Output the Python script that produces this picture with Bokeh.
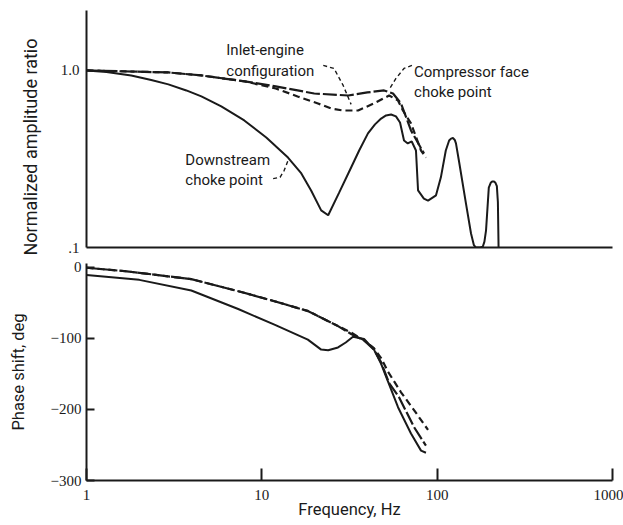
from bokeh.plotting import figure
from bokeh.layouts import column
from bokeh.models import FixedTicker, CustomJSTickFormatter, BasicTickFormatter, Label, Title
from bokeh.embed import file_html
from bokeh.resources import INLINE

# ---------------- data ----------------
# Amplitude, downstream choke point (solid)
amp_down_f = [1.0, 1.30, 1.80, 2.34, 2.93, 3.71, 4.52, 5.87, 7.94, 10.6, 14.1, 16.8, 19.1, 21.8, 23.9,
              27.6, 32.3, 35.9, 40.3, 44.2, 47.9, 51.1, 54.6, 58.2, 61.4, 64.7, 68.0, 71.6, 75.7,
              77.8, 84.0, 88.7, 98.5, 105, 112, 117, 120, 123, 126, 128, 133, 146, 156, 162, 166,
              171, 176, 182, 186, 190, 197, 202, 206, 211, 215, 219, 222, 224]
amp_down_v = [1.0, 0.981, 0.937, 0.884, 0.834, 0.771, 0.713, 0.626, 0.522, 0.418, 0.322, 0.262, 0.210, 0.162, 0.152,
              0.204, 0.283, 0.353, 0.441, 0.496, 0.535, 0.557, 0.564, 0.55, 0.508, 0.402, 0.387, 0.397, 0.353,
              0.210, 0.189, 0.184, 0.197, 0.249, 0.353, 0.402, 0.412, 0.415, 0.405, 0.387, 0.310, 0.177, 0.120, 0.103, 0.1,
              0.1, 0.1, 0.101, 0.108, 0.125, 0.218, 0.232, 0.236, 0.236, 0.232, 0.222, 0.18, 0.1]

# Amplitude, compressor face choke point (long dash)
amp_comp_f = [1.0, 2.93, 4.52, 8.0, 12.0, 19.9, 31.1, 40.0, 49.8, 56.0, 62.2, 70.9, 84.1]
amp_comp_v = [1.0, 0.974, 0.937, 0.867, 0.812, 0.741, 0.722, 0.751, 0.771, 0.741, 0.651, 0.458, 0.340]

# Amplitude, inlet-engine configuration (dashed)
amp_inlet_f = [1.0, 2.93, 4.52, 8.0, 12.0, 16.0, 20.9, 24.8, 29.0, 35.4, 43.6, 53.2, 59.8, 63.8, 70.9, 80.9, 86.3]
amp_inlet_v = [1.0, 0.974, 0.937, 0.867, 0.791, 0.713, 0.651, 0.610, 0.594, 0.594, 0.651, 0.722, 0.677, 0.594, 0.502, 0.353, 0.322]

# Phase, downstream choke point (solid)
ph_down_f = [1.0, 2.0, 3.96, 7.33, 11.8, 18.3, 21.8, 23.9, 27.2, 30.1, 33.1, 38.3, 43.6, 47.9, 53.2, 59.8, 70.9, 80.9, 86.3]
ph_down_v = [-11, -18, -33, -59, -81, -102, -116, -117, -113, -106, -98, -101, -116, -136, -165, -197, -234, -258, -261]

# Phase, compressor face choke point (long dash)
ph_comp_f = [1.0, 1.7, 3.96, 7.63, 11.8, 18.4, 27.2, 32.3, 38.3, 43.6, 47.9, 53.2, 60.6, 73.8, 86.3]
ph_comp_v = [-1, -6, -17, -35, -48, -62, -83, -94, -103, -116, -134, -163, -183, -225, -251]

# Phase, inlet-engine configuration (dashed)
ph_inlet_f = [1.0, 1.7, 3.96, 7.63, 11.8, 18.4, 27.2, 32.3, 38.3, 43.6, 47.9, 52.4, 62.2, 73.8, 88.7]
ph_inlet_v = [-1, -6, -17, -35, -48, -62, -83, -92, -103, -114, -128, -147, -176, -201, -229]

x_ticks = [1, 10, 100, 1000]
amp_ticks = [0.1, 1.0]
phase_ticks = [0, -100, -200, -300]

INK = "#1a1a1a"
FONT = "Roboto"
NUMFONT = "Liberation Serif"

# ---------------- top panel: amplitude ----------------
p1 = figure(width=623, height=258, x_axis_type="log", y_axis_type="log",
            x_range=(1, 1000), y_range=(0.1, 2.18),
            output_backend="svg", toolbar_location=None,
            min_border_left=85, min_border_right=11, min_border_top=10, min_border_bottom=11)
p1.outline_line_color = None
p1.grid.visible = False
p1.background_fill_color = "white"
p1.border_fill_color = "white"

p1.line(amp_down_f, amp_down_v, line_color=INK, line_width=2)
p1.line(amp_comp_f, amp_comp_v, line_color=INK, line_width=2.2, line_dash="14 3")
p1.line(amp_inlet_f, amp_inlet_v, line_color=INK, line_width=2.2, line_dash="7 4")

ya = p1.yaxis[0]
ya.ticker = FixedTicker(ticks=amp_ticks)
ya.formatter = CustomJSTickFormatter(code="return tick >= 0.5 ? '1.0' : '.1';")
ya.minor_tick_line_color = None
ya.major_tick_in = 0
ya.major_tick_out = 0
ya.axis_line_width = 2
ya.axis_line_color = INK
ya.major_label_text_font = NUMFONT
ya.major_label_text_font_size = "15px"
ya.major_label_text_color = INK
ya.major_label_standoff = 7

# y-axis title, below the frame centre as in the reference
p1.add_layout(Title(text="Normalized amplitude ratio", align="left", offset=-8, standoff=34,
                    text_font=FONT, text_font_size="18px", text_font_style="normal",
                    text_color=INK), "left")

xa1 = p1.xaxis[0]
xa1.ticker = FixedTicker(ticks=[])
xa1.minor_tick_line_color = None
xa1.major_tick_line_color = None
xa1.major_label_text_font_size = "0px"
xa1.major_label_standoff = 0
xa1.axis_line_width = 2
xa1.axis_line_color = INK

lbl_kw = dict(text_font=FONT, text_font_size="15px", text_color=INK, text_baseline="alphabetic")
p1.add_layout(Label(x=6.27, y=1.297, text="Inlet-engine", **lbl_kw))
p1.add_layout(Label(x=6.27, y=0.987, text="configuration", **lbl_kw))
p1.add_layout(Label(x=73.8, y=0.974, text="Compressor face", **lbl_kw))
p1.add_layout(Label(x=73.8, y=0.751, text="choke point", **lbl_kw))
p1.add_layout(Label(x=3.66, y=0.314, text="Downstream", **lbl_kw))
p1.add_layout(Label(x=3.66, y=0.239, text="choke point", **lbl_kw))

# leader lines
p1.line([22.4, 25.8, 29.1, 32.3], [1.067, 1.026, 0.823, 0.643], line_color=INK, line_width=1.4, line_dash="4 3")
p1.line([71.8, 64.7, 58.2, 53.2], [1.067, 1.026, 0.901, 0.781], line_color=INK, line_width=1.4, line_dash="4 3")
p1.line([11.6, 12.7, 13.4, 14.1], [0.245, 0.249, 0.272, 0.310], line_color=INK, line_width=1.4, line_dash="4 3")

# ---------------- bottom panel: phase ----------------
p2 = figure(width=623, height=267, x_axis_type="log",
            x_range=p1.x_range, y_range=(-300, 5),
            output_backend="svg", toolbar_location=None,
            min_border_left=85, min_border_right=11, min_border_top=5, min_border_bottom=45)
p2.outline_line_color = None
p2.grid.visible = False
p2.background_fill_color = "white"
p2.border_fill_color = "white"

p2.line(ph_down_f, ph_down_v, line_color=INK, line_width=2)
p2.line(ph_comp_f, ph_comp_v, line_color=INK, line_width=2.2, line_dash="14 3")
p2.line(ph_inlet_f, ph_inlet_v, line_color=INK, line_width=2.2, line_dash="7 4")

ya2 = p2.yaxis[0]
ya2.ticker = FixedTicker(ticks=phase_ticks)
ya2.minor_tick_line_color = None
ya2.major_tick_in = 8
ya2.major_tick_out = 0
ya2.major_tick_line_width = 2
ya2.major_tick_line_color = INK
ya2.axis_line_width = 2
ya2.axis_line_color = INK
ya2.major_label_text_font = NUMFONT
ya2.major_label_text_font_size = "15px"
ya2.major_label_text_color = INK
ya2.major_label_standoff = 5
ya2.axis_label = "Phase shift, deg"
ya2.axis_label_text_font = FONT
ya2.axis_label_text_font_size = "16.5px"
ya2.axis_label_text_font_style = "normal"
ya2.axis_label_text_color = INK
ya2.axis_label_standoff = 20

xa2 = p2.xaxis[0]
xa2.ticker = FixedTicker(ticks=x_ticks)
xa2.formatter = BasicTickFormatter()
xa2.minor_tick_line_color = None
xa2.major_tick_in = 12
xa2.major_tick_out = 0
xa2.major_tick_line_width = 2
xa2.major_tick_line_color = INK
xa2.axis_line_width = 2
xa2.axis_line_color = INK
xa2.major_label_text_font = NUMFONT
xa2.major_label_text_font_size = "15px"
xa2.major_label_text_color = INK
xa2.major_label_standoff = 9
xa2.axis_label = "Frequency, Hz"
xa2.axis_label_text_font = FONT
xa2.axis_label_text_font_size = "16.5px"
xa2.axis_label_text_font_style = "normal"
xa2.axis_label_text_color = INK
xa2.axis_label_standoff = -3

layout = column(p1, p2, spacing=0)
open("out.html", "w").write(file_html(layout, INLINE))
